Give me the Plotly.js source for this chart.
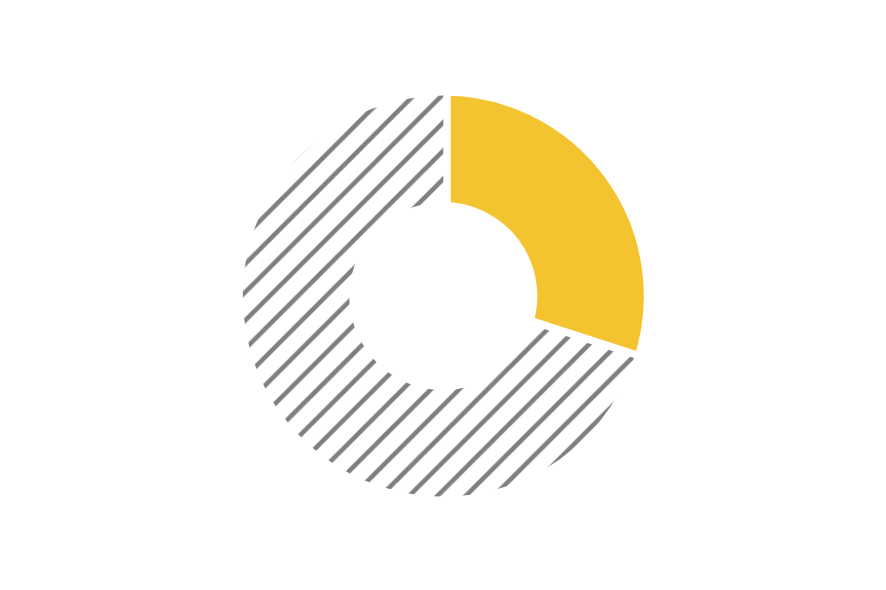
<!DOCTYPE html>
<html>
<head>
<meta charset="utf-8">
<script src="https://cdn.plot.ly/plotly-3.0.1.min.js"></script>
<style>html,body{margin:0;padding:0;background:#fff;}#chart{width:886px;height:590px;}</style>
</head>
<body>
<div id="chart"></div>
<script>
// donut: one highlighted share, the rest hatched
const LABELS = ["Share", "Rest"];
const VALUES = [30, 70];

const W = 886, H = 590;
// ring geometry in px (centre, outer / inner radius, white gap on the yellow side)
const CX = 443.3, CY = 296.1, R = 200.5, RI = 94, GAP = 7.5;

function dom(r) {
  const cyB = H - CY;
  return {x: [(CX - r) / W, (CX + r) / W], y: [(cyB - r) / H, (cyB + r) / H]};
}

// yellow slice, drawn a bit larger so its white edge only eats the radial sides
const yellow = {
  type: 'pie', labels: LABELS, values: VALUES,
  domain: dom(R + GAP),
  hole: (RI - GAP) / (R + GAP),
  sort: false, direction: 'clockwise', rotation: 0,
  textinfo: 'none', hoverinfo: 'label+percent',
  marker: {
    colors: ['#f4c430', 'rgba(0,0,0,0)'],
    line: {color: '#ffffff', width: [GAP * 2, 0]}
  }
};

// hatched rest, on top
const rest = {
  type: 'pie', labels: LABELS, values: VALUES,
  domain: dom(R),
  hole: RI / R,
  sort: false, direction: 'clockwise', rotation: 0,
  textinfo: 'none', hoverinfo: 'skip',
  marker: {
    colors: ['rgba(0,0,0,0)', '#ffffff'],
    line: {color: '#ffffff', width: 0},
    pattern: {shape: ['', '/'], fgcolor: '#7f7f7f', bgcolor: '#ffffff', size: 20, solidity: 0.23}
  }
};

Plotly.newPlot('chart', [yellow, rest], {
  width: W, height: H,
  showlegend: false,
  margin: {l: 0, r: 0, t: 0, b: 0},
  paper_bgcolor: '#ffffff',
  plot_bgcolor: '#ffffff'
}, {displayModeBar: false});
</script>
</body>
</html>
